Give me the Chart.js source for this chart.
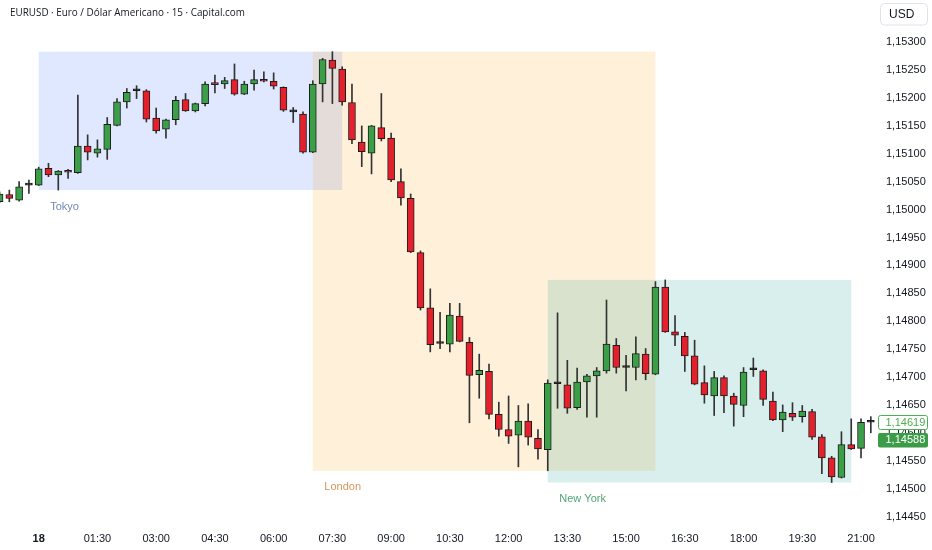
<!DOCTYPE html>
<html><head><meta charset="utf-8">
<script src="https://cdn.jsdelivr.net/npm/chart.js@4.4.1/dist/chart.umd.min.js"></script>
<style>html,body{margin:0;padding:0;background:#fff;overflow:hidden}#wrap{position:relative;width:932px;height:550px}</style>
</head><body><div id="wrap"><canvas id="c" width="932" height="550"></canvas></div>
<script>
const titleText = 'EURUSD · Euro / Dólar Americano · 15 · Capital.com';
const currencyText = 'USD';
// 15-minute candles, first = 23:00 (17th), index 4 = 00:00 (18th)
const opens = [1.15014,1.15027,1.15017,1.15044,1.15044,1.15074,1.15062,1.15068,1.15066,1.15114,
1.15101,1.15108,1.15151,1.15193,1.15213,1.15213,1.15164,1.15144,1.15161,1.15197,
1.15177,1.15190,1.15225,1.15225,1.15233,1.15207,1.15225,1.15233,1.15230,1.15219,
1.15175,1.15171,1.15103,1.15225,1.15268,1.15252,1.15192,1.15121,1.15101,1.15147,
1.15128,1.15050,1.15020,1.14923,1.14824,1.14760,1.14759,1.14809,1.14762,1.14704,
1.14710,1.14633,1.14606,1.14596,1.14621,1.14590,1.14570,1.14688,1.14686,1.14645,
1.14691,1.14702,1.14711,1.14757,1.14717,1.14717,1.14741,1.14705,1.14861,1.14781,
1.14773,1.14738,1.14690,1.14666,1.14699,1.14666,1.14649,1.14713,1.14711,1.14657,
1.14623,1.14635,1.14629,1.14638,1.14593,1.14555,1.14520,1.14579,1.14572,1.14619];
const highs = [1.15032,1.15035,1.15050,1.15053,1.15076,1.15083,1.15070,1.15072,1.15205,1.15134,
1.15125,1.15165,1.15199,1.15217,1.15222,1.15215,1.15182,1.15162,1.15203,1.15208,
1.15191,1.15229,1.15241,1.15237,1.15261,1.15230,1.15250,1.15247,1.15245,1.15220,
1.15183,1.15175,1.15231,1.15271,1.15283,1.15256,1.15225,1.15150,1.15151,1.15208,
1.15137,1.15073,1.15028,1.14926,1.14858,1.14816,1.14832,1.14832,1.14771,1.14741,
1.14723,1.14655,1.14666,1.14649,1.14652,1.14606,1.14695,1.14815,1.14730,1.14716,
1.14705,1.14717,1.14838,1.14769,1.14739,1.14772,1.14751,1.14871,1.14874,1.14810,
1.14780,1.14766,1.14720,1.14710,1.14702,1.14671,1.14717,1.14734,1.14713,1.14673,
1.14650,1.14654,1.14649,1.14642,1.14597,1.14558,1.14602,1.14625,1.14625,1.14629];
const lows = [1.15012,1.15014,1.15015,1.15029,1.15043,1.15059,1.15035,1.15056,1.15065,1.15089,
1.15094,1.15090,1.15150,1.15182,1.15199,1.15157,1.15137,1.15128,1.15152,1.15176,
1.15175,1.15186,1.15209,1.15217,1.15205,1.15206,1.15214,1.15229,1.15216,1.15176,
1.15156,1.15101,1.15102,1.15193,1.15190,1.15187,1.15118,1.15077,1.15064,1.15123,
1.15050,1.15008,1.14923,1.14820,1.14745,1.14751,1.14745,1.14763,1.14618,1.14662,
1.14625,1.14594,1.14581,1.14539,1.14578,1.14553,1.14532,1.14644,1.14635,1.14642,
1.14628,1.14628,1.14707,1.14707,1.14675,1.14695,1.14695,1.14704,1.14780,1.14756,
1.14710,1.14686,1.14653,1.14631,1.14636,1.14612,1.14629,1.14701,1.14649,1.14622,
1.14602,1.14622,1.14619,1.14588,1.14527,1.14511,1.14519,1.14570,1.14555,1.14600];
const closes = [1.15028,1.15020,1.15041,1.15044,1.15073,1.15062,1.15069,1.15067,1.15114,1.15103,
1.15109,1.15153,1.15193,1.15210,1.15213,1.15162,1.15141,1.15161,1.15196,1.15177,
1.15190,1.15225,1.15224,1.15231,1.15207,1.15225,1.15233,1.15230,1.15221,1.15178,
1.15175,1.15103,1.15225,1.15269,1.15253,1.15193,1.15125,1.15104,1.15150,1.15127,
1.15053,1.15021,1.14924,1.14824,1.14758,1.14760,1.14811,1.14764,1.14703,1.14712,
1.14633,1.14606,1.14594,1.14621,1.14592,1.14571,1.14689,1.14688,1.14644,1.14691,
1.14702,1.14711,1.14759,1.14717,1.14717,1.14742,1.14706,1.14861,1.14781,1.14775,
1.14738,1.14687,1.14668,1.14699,1.14666,1.14651,1.14709,1.14713,1.14660,1.14623,
1.14637,1.14628,1.14639,1.14592,1.14555,1.14521,1.14579,1.14571,1.14619,1.14619];
const xTickIndex = [4,10,16,22,28,34,40,46,52,58,64,70,76,82,88];
const xTickLabels = ['18','01:30','03:00','04:30','06:00','07:30','09:00','10:30','12:00','13:30','15:00','16:30','18:00','19:30','21:00'];
const yTicks = [1.1445,1.1450,1.1455,1.1460,1.1465,1.1470,1.1475,1.1480,1.1485,1.1490,1.1495,1.1500,1.1505,1.1510,1.1515,1.1520,1.1525,1.1530];
const sessionNames = ['Tokyo','London','New York'];
const sessionStartIdx = [4,32,56];
const sessionEndIdx = [35,67,87];
const priceMarkers = [1.14619, 1.14588];

// styles
const sessionFill = ['rgba(41,98,255,0.15)','rgba(255,152,0,0.15)','rgba(0,150,136,0.15)'];
const sessionText = ['#7189b5','#d6955c','#52a677'];
const UP = '#3a9f47', DOWN = '#e3202c', EDGE = '#1c1c1c', WICK = '#333333', DOJI = '#1c1c1c';
const AXIS_FONT = "'Liberation Sans', Arial, sans-serif";

const sessionsPlugin = {
  id: 'sessions',
  beforeDatasetsDraw(chart) {
    const {ctx, chartArea: a, scales: {x, y}} = chart;
    ctx.save();
    ctx.beginPath(); ctx.rect(a.left, a.top, a.right - a.left, a.bottom - a.top); ctx.clip();
    const boxes = [];
    for (let s = 0; s < sessionNames.length; s++) {
      const i0 = sessionStartIdx[s], i1 = sessionEndIdx[s];
      const hi = Math.max(...highs.slice(i0, i1 + 1));
      const lo = Math.min(...lows.slice(i0, i1 + 1));
      const x0 = x.getPixelForValue(i0), x1 = x.getPixelForValue(i1);
      const y0 = y.getPixelForValue(hi), y1 = y.getPixelForValue(lo);
      ctx.fillStyle = sessionFill[s];
      ctx.fillRect(x0, y0, x1 - x0, y1 - y0);
      boxes.push([x0, y1]);
    }
    ctx.font = "11px " + AXIS_FONT;
    ctx.textBaseline = 'middle'; ctx.textAlign = 'left';
    for (let s = 0; s < sessionNames.length; s++) {
      ctx.fillStyle = sessionText[s];
      ctx.fillText(sessionNames[s], boxes[s][0] + 11.5, boxes[s][1] + 16.5);
    }
    ctx.restore();
  }
};

const overlayPlugin = {
  id: 'overlay',
  afterDraw(chart) {
    const {ctx, scales: {y}} = chart;
    ctx.save();
    // title
    let fs = 13;
    ctx.font = fs + "px 'Open Sans', sans-serif";
    const w = ctx.measureText(titleText).width;
    fs = fs * 235 / w;
    ctx.font = fs.toFixed(2) + "px 'Open Sans', sans-serif";
    ctx.fillStyle = '#131722'; ctx.textBaseline = 'middle'; ctx.textAlign = 'left';
    ctx.fillText(titleText, 10, 13.5);
    // currency box
    ctx.strokeStyle = '#e0e3eb'; ctx.lineWidth = 1; ctx.fillStyle = '#ffffff';
    ctx.beginPath(); ctx.roundRect(880.5, 3.5, 47, 21.5, 4); ctx.fill(); ctx.stroke();
    ctx.fillStyle = '#131722'; ctx.font = "12px " + AXIS_FONT;
    ctx.fillText(currencyText, 889, 14.5);
    // price markers
    ctx.font = "11px " + AXIS_FONT;
    const m0 = y.getPixelForValue(priceMarkers[0]);
    ctx.fillStyle = '#ffffff'; ctx.strokeStyle = '#4caf50';
    ctx.beginPath(); ctx.roundRect(878.5, Math.round(m0) - 6.5, 49, 14, 2); ctx.fill(); ctx.stroke();
    ctx.fillStyle = '#4caf50';
    ctx.fillText(priceMarkers[0].toFixed(5).replace('.', ','), 885.5, m0 + 0.5);
    const m1 = y.getPixelForValue(priceMarkers[1]);
    ctx.fillStyle = '#3b9c47';
    ctx.beginPath(); ctx.roundRect(878, Math.round(m1) - 7, 50, 14.5, 2); ctx.fill();
    ctx.fillStyle = '#ffffff';
    ctx.fillText(priceMarkers[1].toFixed(5).replace('.', ','), 885.5, m1 + 0.5);
    ctx.restore();
  }
};

const idx = opens.map((_, i) => i);
const bodyData = idx.map(i => ({x: i, y: [opens[i], closes[i]]}));
const wickData = idx.map(i => ({x: i, y: [lows[i], highs[i]]}));
const bodyColor = c => {
  const i = c.dataIndex;
  if (closes[i] === opens[i]) return DOJI;
  return closes[i] > opens[i] ? UP : DOWN;
};

new Chart(document.getElementById('c'), {
  type: 'bar',
  data: {
    datasets: [
      {label: 'wick', data: wickData, backgroundColor: WICK, barThickness: 1, grouped: false, order: 2, borderWidth: 0},
      {label: 'body', data: bodyData, backgroundColor: bodyColor, borderColor: EDGE, borderWidth: 1,
       borderSkipped: false, barThickness: 7, minBarLength: 2, grouped: false, order: 1}
    ]
  },
  options: {
    responsive: false, animation: false, devicePixelRatio: 1,
    layout: {padding: 0},
    plugins: {legend: {display: false}, tooltip: {enabled: false}},
    scales: {
      x: {
        type: 'linear', offset: false, min: 0.047, max: 89.53,
        grid: {display: false, drawTicks: false}, border: {display: false},
        afterBuildTicks: s => { s.ticks = xTickIndex.map(v => ({value: v})); },
        afterFit: s => { s.height = 29; s.paddingLeft = 0; s.paddingRight = 0; },
        ticks: {
          autoSkip: false, maxRotation: 0, padding: 11, color: '#131722',
          font: c => ({family: AXIS_FONT, size: 11, weight: c.index === 0 ? 'bold' : 'normal'}),
          callback: (v, i) => xTickLabels[i]
        }
      },
      y: {
        type: 'linear', position: 'right', beginAtZero: false, min: 1.14442, max: 1.153756,
        grid: {display: false, drawTicks: false}, border: {display: false},
        afterBuildTicks: s => { s.ticks = yTicks.map(v => ({value: v})); },
        afterFit: s => { s.width = 56; s.paddingTop = 0; s.paddingBottom = 0; },
        ticks: {
          padding: 10, color: '#131722', crossAlign: 'near',
          font: {family: AXIS_FONT, size: 11},
          callback: v => v.toFixed(5).replace('.', ',')
        }
      }
    }
  },
  plugins: [sessionsPlugin, overlayPlugin]
});
</script></body></html>
